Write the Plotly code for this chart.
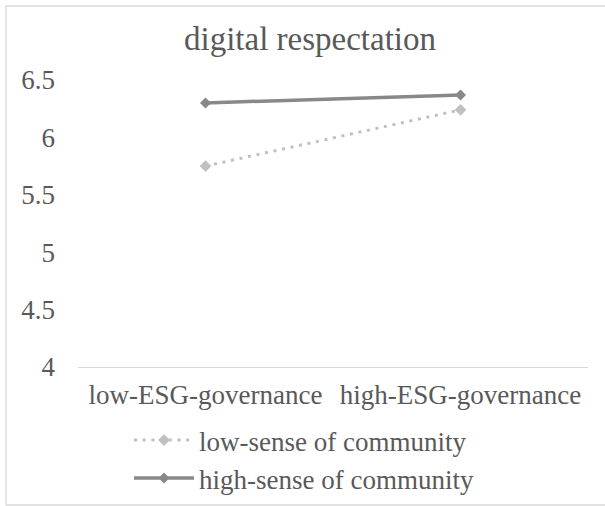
import plotly.graph_objects as go

categories = ["low-ESG-governance", "high-ESG-governance"]
low_sense = [5.75, 6.24]
high_sense = [6.30, 6.37]
series_names = ["low-sense of community", "high-sense of community"]
y_ticks = [4, 4.5, 5, 5.5, 6, 6.5]
y_tick_labels = ["4", "4.5", "5", "5.5", "6", "6.5"]
title_text = "digital respectation"

FONT = "Liberation Serif, Times New Roman, serif"
TXT = "#595959"

fig = go.Figure()
fig.add_trace(go.Scatter(
    x=categories, y=low_sense, name=series_names[0], mode="lines+markers",
    line=dict(color="#c0c0c0", width=3, dash="3px,5.7px"),
    marker=dict(symbol="diamond", size=9, color="#c0c0c0"),
    legend="legend",
))
fig.add_trace(go.Scatter(
    x=categories, y=high_sense, name=series_names[1], mode="lines+markers",
    line=dict(color="#888888", width=3.5),
    marker=dict(symbol="diamond", size=8.5, color="#888888"),
    legend="legend2",
))

def px_x(p):
    return (p - 78) / 510

def px_y(p):
    return (367 - p) / 287

leg_common = dict(orientation="v", xanchor="left", yanchor="top", yref="paper",
                  font=dict(size=27, color=TXT, family=FONT), itemwidth=60,
                  bgcolor="rgba(0,0,0,0)")

fig.update_layout(
    width=605, height=506,
    margin=dict(l=78, r=17, t=80, b=139, autoexpand=False),
    paper_bgcolor="white", plot_bgcolor="white",
    font=dict(family=FONT, color=TXT, size=27),
    title=dict(text=title_text, x=310/605, xref="container", xanchor="center",
               y=1 - 38/506, yref="container", yanchor="middle",
               font=dict(size=33, color=TXT, family=FONT)),
    xaxis=dict(type="category", range=[-0.5, 1.5], showgrid=False,
               showline=True, linecolor="#d9d9d9", linewidth=1.3,
               ticks="", tickfont=dict(size=27, color=TXT, family=FONT),
               ticklabelstandoff=3, zeroline=False, automargin=False),
    yaxis=dict(range=[4, 6.5], tickvals=y_ticks, ticktext=y_tick_labels,
               showgrid=False, showline=False, zeroline=False, ticks="",
               tickfont=dict(size=27, color=TXT, family=FONT),
               ticklabelstandoff=22, automargin=False),
    legend=dict(x=px_x(129), y=px_y(416), **leg_common),
    legend2=dict(x=px_x(129), y=px_y(454), **leg_common),
    showlegend=True,
)

fig.add_shape(type="rect", xref="paper", yref="paper",
              x0=px_x(6), x1=px_x(612),
              y0=px_y(505), y1=px_y(6),
              line=dict(color="#d9d9d9", width=1.3), fillcolor="rgba(0,0,0,0)",
              layer="below")

fig.write_html("out.html")
